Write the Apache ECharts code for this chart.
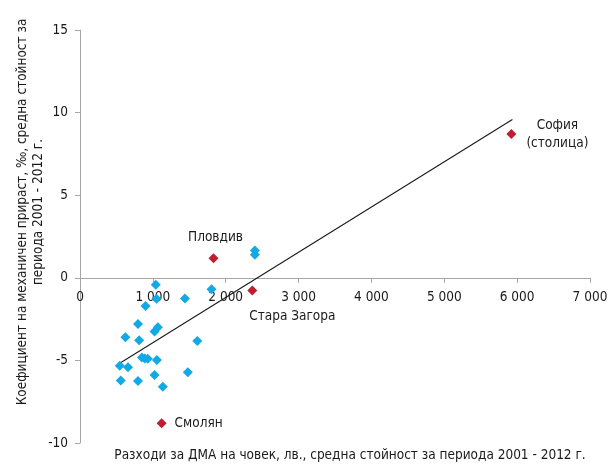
<!DOCTYPE html>
<html><head><meta charset="utf-8">
<script src="https://cdn.jsdelivr.net/npm/echarts@6/dist/echarts.min.js"></script>
<style>html,body{margin:0;padding:0;background:#fff}#c{width:611px;height:465px}</style>
</head><body><div id="c"></div>
<script>
// Blue points: regions [expenditure, migration coefficient]
const blueX = [1040, 1050, 900, 1440, 1805, 2400, 2400, 796, 1069, 1023, 623, 812, 1610, 850, 890, 930, 1055, 546, 659, 1480, 1023, 559, 796, 1137];
const blueY = [-0.42, -1.27, -1.7, -1.25, -0.69, 1.65, 1.4, -2.8, -3.0, -3.25, -3.6, -3.78, -3.82, -4.83, -4.88, -4.9, -4.98, -5.33, -5.41, -5.72, -5.88, -6.22, -6.24, -6.59];
// Highlighted (red) regions
const redNames = ['София\n(столица)', 'Пловдив', 'Стара Загора', 'Смолян'];
const redX = [5921, 1832, 2365, 1120];
const redY = [8.71, 1.19, -0.77, -8.8];
// Trend line endpoints
const trendX = [546, 5935];
const trendY = [-5.17, 9.58];
// Axes
const xTicks = [0, 1000, 2000, 3000, 4000, 5000, 6000, 7000];
const yTicks = [-10, -5, 0, 5, 10, 15];
const xTitle = 'Разходи за ДМА на човек, лв., средна стойност за периода 2001 - 2012 г.';
const yTitle = 'Коефициент на механичен прираст, ‰, средна стойност за\nпериода 2001 - 2012 г.';

const FONT = '"Liberation Sans Narrow", "DejaVu Sans Condensed", sans-serif';
const FS = 13.5;
const labelOffsets = [[46, 1], [2, -21], [40, 26], [37, 0]];

const GRID_TOP = 30, GRID_BOTTOM = 22, H = 465;
const plotH = H - GRID_TOP - GRID_BOTTOM;
const yMin = yTicks[0], yMax = yTicks[yTicks.length - 1];
// move x axis up so it crosses y = 0
const zeroFromBottom = plotH * (0 - yMin) / (yMax - yMin);

const chart = echarts.init(document.getElementById('c'), null, {renderer: 'canvas'});
chart.setOption({
  animation: false,
  backgroundColor: '#fff',
  grid: {left: 80, right: 21, top: GRID_TOP, bottom: GRID_BOTTOM},
  xAxis: {
    type: 'value', min: xTicks[0], max: xTicks[xTicks.length - 1], interval: 1000,
    position: 'bottom', offset: -zeroFromBottom,
    axisLine: {onZero: false, lineStyle: {color: '#a6a6a6', width: 1}},
    axisTick: {show: true, length: 5, lineStyle: {color: '#a6a6a6'}},
    splitLine: {show: false},
    axisLabel: {
      margin: 13, color: '#1a1a1a', fontFamily: FONT, fontSize: FS,
      formatter: v => v === 0 ? '0' : String(v).replace(/\B(?=(\d{3})+(?!\d))/g, ' ')
    }
  },
  yAxis: {
    type: 'value', min: yMin, max: yMax, interval: 5,
    axisLine: {show: true, onZero: false, lineStyle: {color: '#a6a6a6', width: 1}},
    axisTick: {show: true, length: 5, lineStyle: {color: '#a6a6a6'}},
    splitLine: {show: false},
    axisLabel: {margin: 12, color: '#1a1a1a', fontFamily: FONT, fontSize: FS}
  },
  graphic: [
    {type: 'text', x: 30, y: 212, rotation: Math.PI / 2,
     style: {text: yTitle, fill: '#1a1a1a', font: FS + 'px ' + FONT, textAlign: 'center', textVerticalAlign: 'middle', lineHeight: 16}},
    {type: 'text', x: 350, y: 455,
     style: {text: xTitle, fill: '#1a1a1a', font: FS + 'px ' + FONT, textAlign: 'center', textVerticalAlign: 'middle'}}
  ],
  series: [
    {
      type: 'line', data: trendX.map((x, i) => [x, trendY[i]]), symbol: 'none',
      lineStyle: {color: '#1a1a1a', width: 1.1}, z: 1
    },
    {
      type: 'scatter', data: blueX.map((x, i) => [x, blueY[i]]), symbol: 'diamond', symbolSize: 10,
      itemStyle: {color: '#13a9e6', opacity: 1}, z: 2
    },
    {
      type: 'scatter', symbol: 'diamond', symbolSize: 10, itemStyle: {color: '#be1e2d', opacity: 1}, z: 3,
      data: redX.map((x, i) => ({
        value: [x, redY[i]], name: redNames[i],
        label: {show: true, position: 'inside', offset: labelOffsets[i], align: 'center', verticalAlign: 'middle',
                formatter: redNames[i], color: '#1a1a1a', textBorderWidth: 0, fontFamily: FONT, fontSize: FS, lineHeight: 18}
      }))
    }
  ]
});
</script></body></html>
